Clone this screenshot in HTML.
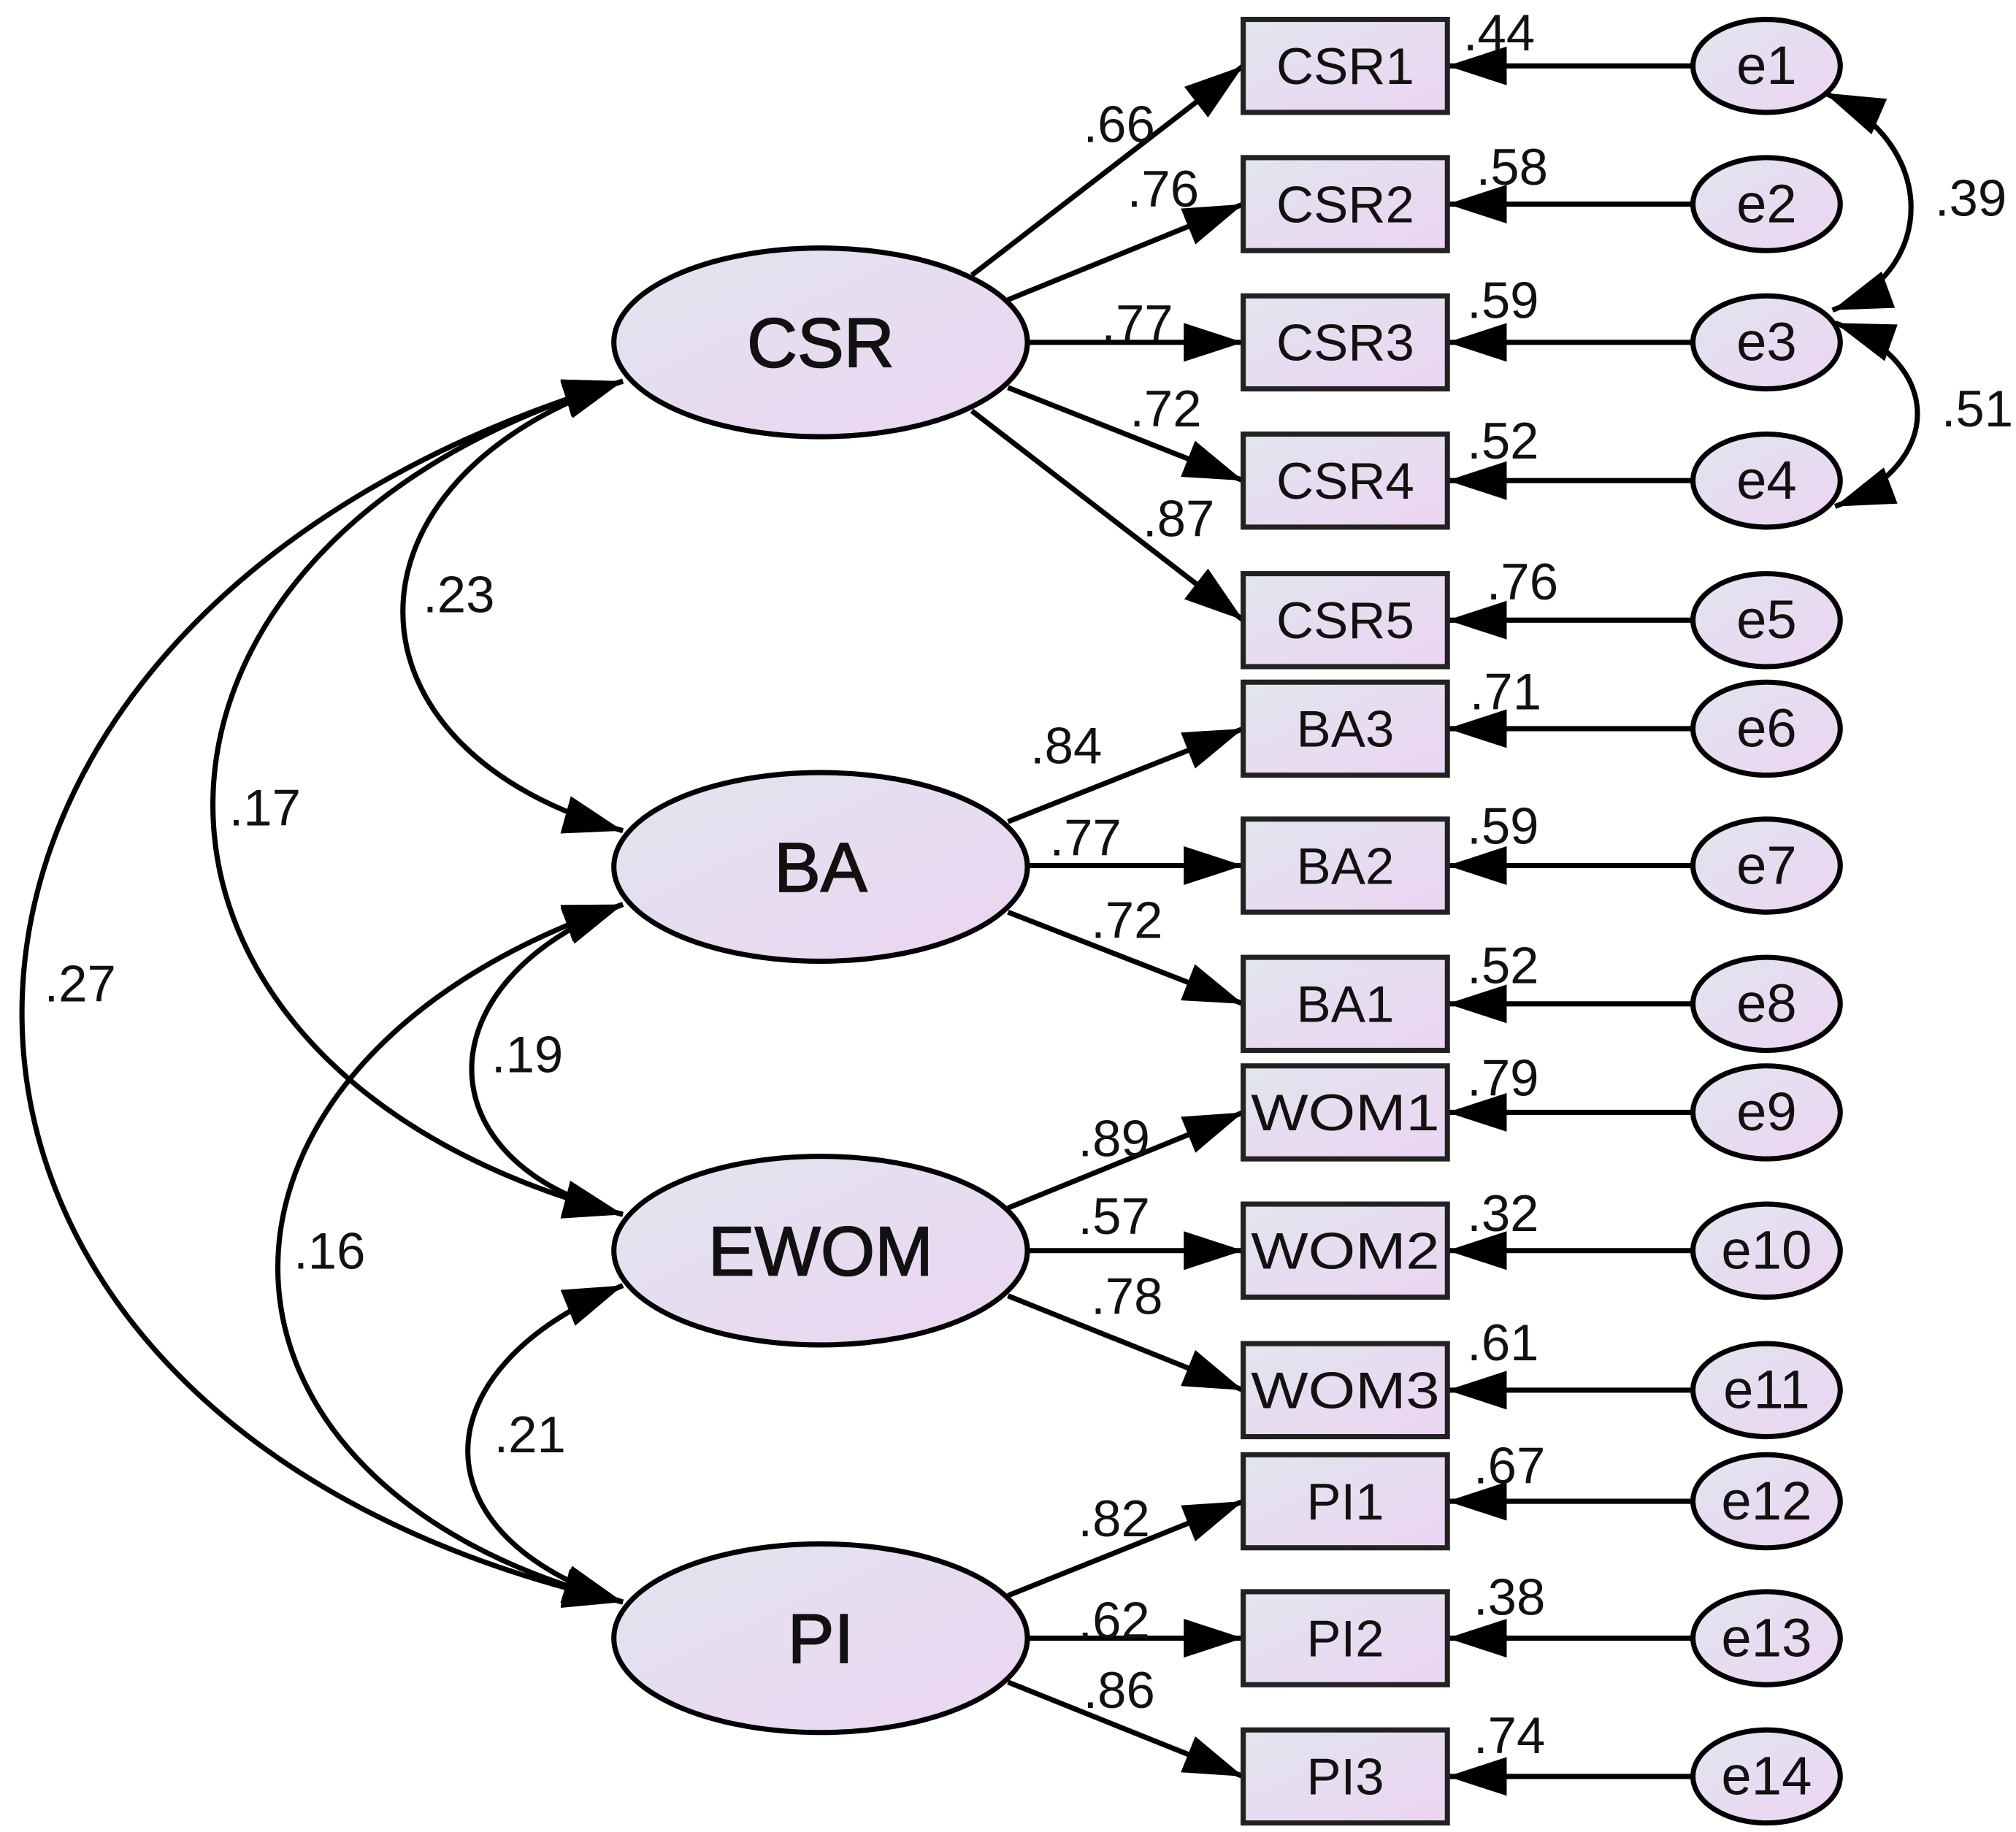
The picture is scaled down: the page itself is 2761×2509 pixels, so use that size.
<!DOCTYPE html>
<html><head><meta charset="utf-8"><style>
html,body{margin:0;padding:0;background:#fff}
svg{display:block}
text{font-family:"Liberation Sans",Arial,sans-serif;fill:#111}
</style></head><body>
<svg width="2761" height="2509" viewBox="0 0 1560 1418" preserveAspectRatio="none" xmlns="http://www.w3.org/2000/svg">
<defs>
<linearGradient id="g" x1="0" y1="0" x2="1" y2="1">
<stop offset="0" stop-color="#e1e5ee"/><stop offset="1" stop-color="#ecd4f2"/>
</linearGradient>
<marker id="a" viewBox="0 0 46 30" refX="46" refY="15" markerWidth="46" markerHeight="30" markerUnits="userSpaceOnUse" orient="auto-start-reverse">
<path d="M0,0 L46,15 L0,30 z" fill="#000"/>
</marker>
</defs>
<g fill="none" stroke="#000" stroke-width="4">
<path d="M482 295 C255 370 255 580 482 643" marker-start="url(#a)" marker-end="url(#a)"/>
<path d="M482 295 C59 420 59 830 482 940" marker-start="url(#a)" marker-end="url(#a)"/>
<path d="M482 295 C-138 480 -138 1100 482 1240" marker-start="url(#a)" marker-end="url(#a)"/>
<path d="M482 700 C326 760 326 900 482 940" marker-start="url(#a)" marker-end="url(#a)"/>
<path d="M482 700 C126 820 126 1150 482 1240" marker-start="url(#a)" marker-end="url(#a)"/>
<path d="M482 995 C322 1060 322 1190 482 1240" marker-start="url(#a)" marker-end="url(#a)"/>
<path d="M1412 72 C1500 110 1500 210 1418 240" marker-start="url(#a)" marker-end="url(#a)"/>
<path d="M1420 250 C1505 280 1505 360 1420 392" marker-start="url(#a)" marker-end="url(#a)"/>
<line x1="752" y1="213" x2="962" y2="51" marker-end="url(#a)"/>
<line x1="780" y1="232" x2="962" y2="158" marker-end="url(#a)"/>
<line x1="795" y1="265" x2="962" y2="265" marker-end="url(#a)"/>
<line x1="780" y1="300" x2="962" y2="372" marker-end="url(#a)"/>
<line x1="752" y1="318" x2="962" y2="480" marker-end="url(#a)"/>
<line x1="780" y1="636" x2="962" y2="564" marker-end="url(#a)"/>
<line x1="795" y1="670" x2="962" y2="670" marker-end="url(#a)"/>
<line x1="780" y1="706" x2="962" y2="777" marker-end="url(#a)"/>
<line x1="780" y1="935" x2="962" y2="861" marker-end="url(#a)"/>
<line x1="795" y1="968" x2="962" y2="968" marker-end="url(#a)"/>
<line x1="780" y1="1003" x2="962" y2="1076" marker-end="url(#a)"/>
<line x1="780" y1="1235" x2="962" y2="1162" marker-end="url(#a)"/>
<line x1="795" y1="1268" x2="962" y2="1268" marker-end="url(#a)"/>
<line x1="780" y1="1302" x2="962" y2="1375" marker-end="url(#a)"/>
<line x1="1310" y1="51" x2="1120" y2="51" marker-end="url(#a)"/>
<line x1="1310" y1="158" x2="1120" y2="158" marker-end="url(#a)"/>
<line x1="1310" y1="265" x2="1120" y2="265" marker-end="url(#a)"/>
<line x1="1310" y1="372" x2="1120" y2="372" marker-end="url(#a)"/>
<line x1="1310" y1="480" x2="1120" y2="480" marker-end="url(#a)"/>
<line x1="1310" y1="564" x2="1120" y2="564" marker-end="url(#a)"/>
<line x1="1310" y1="670" x2="1120" y2="670" marker-end="url(#a)"/>
<line x1="1310" y1="777" x2="1120" y2="777" marker-end="url(#a)"/>
<line x1="1310" y1="861" x2="1120" y2="861" marker-end="url(#a)"/>
<line x1="1310" y1="968" x2="1120" y2="968" marker-end="url(#a)"/>
<line x1="1310" y1="1076" x2="1120" y2="1076" marker-end="url(#a)"/>
<line x1="1310" y1="1162" x2="1120" y2="1162" marker-end="url(#a)"/>
<line x1="1310" y1="1268" x2="1120" y2="1268" marker-end="url(#a)"/>
<line x1="1310" y1="1375" x2="1120" y2="1375" marker-end="url(#a)"/>
</g>
<g fill="url(#g)" stroke="#000" stroke-width="4">
<ellipse cx="635" cy="265" rx="160" ry="73"/>
<ellipse cx="635" cy="671" rx="160" ry="73"/>
<ellipse cx="635" cy="968" rx="160" ry="73"/>
<ellipse cx="635" cy="1268" rx="160" ry="73"/>
</g>
<g font-size="54" text-anchor="middle" stroke="#111" stroke-width="1">
<text x="635" y="284">CSR</text><text x="635" y="690">BA</text>
<text x="635" y="987">EWOM</text><text x="635" y="1287">PI</text>
</g>
<g fill="url(#g)" stroke="#222" stroke-width="4">
<rect x="962" y="15" width="158" height="72"/><rect x="962" y="122" width="158" height="72"/>
<rect x="962" y="229" width="158" height="72"/><rect x="962" y="336" width="158" height="72"/>
<rect x="962" y="444" width="158" height="72"/><rect x="962" y="528" width="158" height="72"/>
<rect x="962" y="634" width="158" height="72"/><rect x="962" y="741" width="158" height="72"/>
<rect x="962" y="825" width="158" height="72"/><rect x="962" y="932" width="158" height="72"/>
<rect x="962" y="1040" width="158" height="72"/><rect x="962" y="1126" width="158" height="72"/>
<rect x="962" y="1232" width="158" height="72"/><rect x="962" y="1339" width="158" height="72"/>
</g>
<g font-size="40" text-anchor="middle">
<text x="1041" y="65">CSR1</text><text x="1041" y="172">CSR2</text><text x="1041" y="279">CSR3</text>
<text x="1041" y="386">CSR4</text><text x="1041" y="494">CSR5</text><text x="1041" y="578">BA3</text>
<text x="1041" y="684">BA2</text><text x="1041" y="791">BA1</text>
<text x="1041" y="875" textLength="146" lengthAdjust="spacingAndGlyphs">WOM1</text>
<text x="1041" y="982" textLength="146" lengthAdjust="spacingAndGlyphs">WOM2</text>
<text x="1041" y="1090" textLength="146" lengthAdjust="spacingAndGlyphs">WOM3</text>
<text x="1041" y="1176">PI1</text>
<text x="1041" y="1282">PI2</text><text x="1041" y="1389">PI3</text>
</g>
<g fill="url(#g)" stroke="#000" stroke-width="4">
<ellipse cx="1367" cy="51" rx="57" ry="36"/><ellipse cx="1367" cy="158" rx="57" ry="36"/>
<ellipse cx="1367" cy="265" rx="57" ry="36"/><ellipse cx="1367" cy="372" rx="57" ry="36"/>
<ellipse cx="1367" cy="480" rx="57" ry="36"/><ellipse cx="1367" cy="564" rx="57" ry="36"/>
<ellipse cx="1367" cy="670" rx="57" ry="36"/><ellipse cx="1367" cy="777" rx="57" ry="36"/>
<ellipse cx="1367" cy="861" rx="57" ry="36"/><ellipse cx="1367" cy="968" rx="57" ry="36"/>
<ellipse cx="1367" cy="1076" rx="57" ry="36"/><ellipse cx="1367" cy="1162" rx="57" ry="36"/>
<ellipse cx="1367" cy="1268" rx="57" ry="36"/><ellipse cx="1367" cy="1375" rx="57" ry="36"/>
</g>
<g font-size="42" text-anchor="middle">
<text x="1367" y="65">e1</text><text x="1367" y="172">e2</text><text x="1367" y="279">e3</text>
<text x="1367" y="386">e4</text><text x="1367" y="494">e5</text><text x="1367" y="578">e6</text>
<text x="1367" y="684">e7</text><text x="1367" y="791">e8</text><text x="1367" y="875">e9</text>
<text x="1367" y="982">e10</text><text x="1367" y="1090">e11</text><text x="1367" y="1176">e12</text>
<text x="1367" y="1282">e13</text><text x="1367" y="1389">e14</text>
</g>
<g font-size="40" text-anchor="middle">
<text x="866" y="110">.66</text><text x="900" y="160">.76</text><text x="880" y="264">.77</text>
<text x="902" y="330">.72</text><text x="912" y="415">.87</text>
<text x="825" y="591">.84</text><text x="840" y="662">.77</text><text x="872" y="726">.72</text>
<text x="862" y="895">.89</text><text x="862" y="955">.57</text><text x="872" y="1017">.78</text>
<text x="862" y="1189">.82</text><text x="862" y="1268">.62</text><text x="866" y="1322">.86</text>
<text x="1160" y="39">.44</text><text x="1170" y="143">.58</text><text x="1163" y="246">.59</text>
<text x="1163" y="355">.52</text><text x="1178" y="464">.76</text><text x="1165" y="549">.71</text>
<text x="1163" y="653">.59</text><text x="1163" y="761">.52</text><text x="1163" y="848">.79</text>
<text x="1163" y="953">.32</text><text x="1163" y="1053">.61</text><text x="1168" y="1148">.67</text>
<text x="1168" y="1250">.38</text><text x="1168" y="1357">.74</text>
<text x="1525" y="167">.39</text><text x="1530" y="330">.51</text>
<text x="355" y="474">.23</text><text x="205" y="639">.17</text><text x="62" y="775">.27</text>
<text x="408" y="830">.19</text><text x="255" y="982">.16</text><text x="410" y="1124">.21</text>
</g>
</svg>
</body></html>
